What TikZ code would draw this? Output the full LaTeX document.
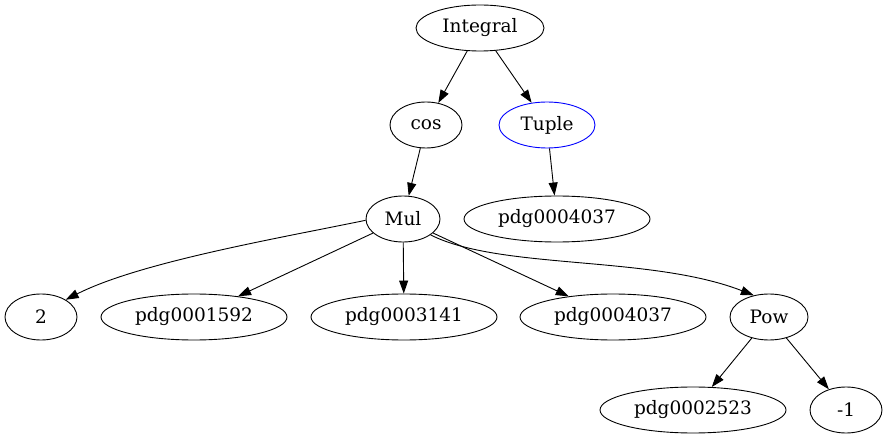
\documentclass[tikz,border=0pt]{standalone}
\usepackage{fontspec}
\setmainfont{DejaVu Serif}
\usetikzlibrary{shapes.geometric, arrows.meta}

\begin{document}
\begin{tikzpicture}[x=1pt, y=-1pt, line width=0.9pt,
    every node/.style={ellipse, draw, minimum height=46pt, inner sep=0pt,
      font=\fontsize{18.5}{20}\selectfont},
    small/.style={minimum width=74pt},
    long/.style={minimum width=186pt},
    edge/.style={-{Triangle[length=13pt, width=9pt]}}]
  \useasboundingbox (0,0) rectangle (888,443);
  % nodes
  \node[minimum width=128pt] (integral) at (480,28) {Integral};
  \node[minimum width=72pt] (cos) at (426,125) {cos};
  \node[minimum width=96pt, draw=blue] (tuple) at (547,125) {Tuple};
  \node[long] (pdgT) at (557,219) {pdg0004037};
  \node[small] (mul) at (403,219) {Mul};
  \node[minimum width=72pt] (two) at (41,317) {2};
  \node[long] (pdgA) at (194,317) {pdg0001592};
  \node[long] (pdgB) at (404,317) {pdg0003141};
  \node[long] (pdgC) at (613,317) {pdg0004037};
  \node[minimum width=78pt] (pow) at (769,317) {Pow};
  \node[long] (pdgD) at (693,410) {pdg0002523};
  \node[minimum width=72pt] (minusone) at (846,410) {-1};
  % edges
  \draw[edge] (integral) -- (cos);
  \draw[edge] (integral) -- (tuple);
  \draw[edge] (tuple) -- (pdgT);
  \draw[edge] (cos) -- (mul);
  \draw[edge] (mul.182) .. controls (280,238) and (140,262) .. (two.35);
  \draw[edge] (mul) -- (pdgA);
  \draw[edge] (mul) -- (pdgB);
  \draw[edge] (mul) -- (pdgC);
  \draw[edge] (mul.-30) .. controls (500,270) and (650,255) .. (pow.125);
  \draw[edge] (pow) -- (pdgD);
  \draw[edge] (pow) -- (minusone);
\end{tikzpicture}
\end{document}
